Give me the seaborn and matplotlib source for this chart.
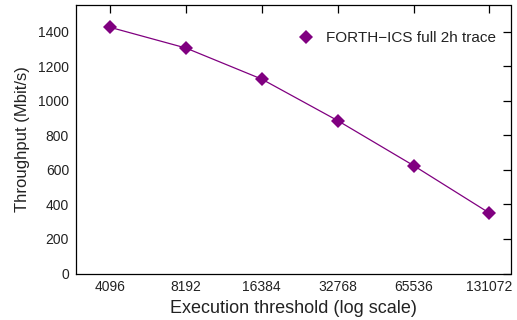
import matplotlib
matplotlib.use("Agg")
import matplotlib.pyplot as plt
from matplotlib.lines import Line2D
from matplotlib.ticker import FixedLocator, FixedFormatter, NullLocator
import seaborn as sns
import pandas as pd

thresholds = [4096, 8192, 16384, 32768, 65536, 131072]
throughput = [1425, 1305, 1125, 885, 625, 350]
x_tick_labels = ["4096", "8192", "16384", "32768", "65536", "131072"]
y_ticks = [0, 200, 400, 600, 800, 1000, 1200, 1400]
series_name = "FORTH\u2212ICS full 2h trace"

sns.set_theme(style="white")
plt.rcParams["font.family"] = ["Liberation Sans", "DejaVu Sans"]

df = pd.DataFrame({"threshold": thresholds, "throughput": throughput})

fig = plt.figure(figsize=(5.17, 3.2), dpi=100)
ax = fig.add_axes([76 / 517, 1 - 273.5 / 320, (510.5 - 76) / 517, (273.5 - 4.5) / 320])

color = "#800080"
sns.lineplot(data=df, x="threshold", y="throughput", ax=ax, color=color,
             linewidth=0.9, marker="D", markersize=7, markeredgewidth=0,
             markeredgecolor=color, legend=False)

ax.set_xscale("log", base=2)
ax.set_xlim(3000, 159000)
ax.set_ylim(0, 1557)

ax.xaxis.set_major_locator(FixedLocator(thresholds))
ax.xaxis.set_major_formatter(FixedFormatter(x_tick_labels))
ax.xaxis.set_minor_locator(NullLocator())
ax.set_yticks(y_ticks)
ax.set_yticklabels([str(v) for v in y_ticks])

ax.tick_params(axis="both", which="major", direction="in", length=6, width=0.9,
               top=True, right=True, labelsize=10, colors="black",
               labelcolor="#222222", pad=5)
for side in ax.spines.values():
    side.set_visible(True)
    side.set_color("black")
    side.set_linewidth(0.9)

ax.set_xlabel("Execution threshold (log scale)", fontsize=13, color="#222222", labelpad=4)
ax.set_ylabel("Throughput (Mbit/s)", fontsize=12, color="#222222", labelpad=6)

handle = Line2D([], [], linestyle="none", marker="D", markersize=7,
                color=color, markeredgewidth=0)
ax.legend([handle], [series_name], loc="center right",
          bbox_to_anchor=(0.967, 0.875), frameon=False, borderpad=0,
          fontsize=11, handlelength=1.0, handletextpad=0.8,
          borderaxespad=0, labelcolor="#222222")

fig.savefig("out.png", dpi=100)
